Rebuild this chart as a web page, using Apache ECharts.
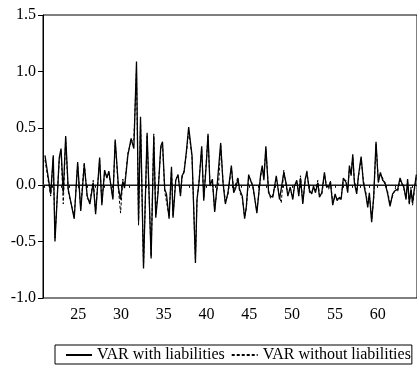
<!DOCTYPE html>
<html><head><meta charset="utf-8">
<script src="https://cdn.jsdelivr.net/npm/echarts@6/dist/echarts.min.js"></script>
<style>html,body{margin:0;padding:0;background:#fff}#c{width:417px;height:368px}</style>
</head><body><div id="c"></div>
<script>
const xs = [21.11,21.78,22.08,22.28,22.78,22.99,23.25,23.53,23.83,24.53,
24.93,25.29,25.70,26.05,26.36,26.75,27.03,27.50,27.76,28.08,
28.35,28.58,29.05,29.32,29.71,29.95,30.21,30.41,30.80,31.18,
31.50,31.81,32.05,32.28,32.63,33.05,33.52,33.83,34.06,34.33,
34.65,34.85,35.11,35.31,35.62,35.90,36.08,36.40,36.67,36.95,
37.13,37.37,37.65,37.91,38.30,38.70,38.88,39.12,39.43,39.67,
39.98,40.17,40.40,40.68,40.95,41.22,41.41,41.65,41.92,42.20,
42.50,42.90,43.17,43.40,43.67,43.86,44.18,44.45,44.65,44.92,
45.23,45.42,45.88,46.32,46.51,46.70,46.93,47.25,47.48,47.75,
48.15,48.53,48.73,49.03,49.31,49.50,49.78,50.08,50.28,50.55,
50.78,50.98,51.25,51.53,51.72,52.03,52.30,52.50,52.73,53.00,
53.20,53.47,53.78,53.98,54.28,54.48,54.75,55.03,55.26,55.53,
55.73,55.99,56.31,56.50,56.70,56.90,57.09,57.28,57.55,57.75,
58.07,58.33,58.65,58.84,59.03,59.30,59.54,59.81,60.08,60.32,
60.59,60.86,61.17,61.45,61.75,62.07,62.34,62.62,62.85,63.04,
63.32,63.50,63.70,63.90,64.08,64.28,64.52];

const withLiab = [0.26,-0.08,0.26,-0.50,0.24,0.32,-0.07,0.43,-0.04,-0.30,
0.20,-0.23,0.18,-0.10,-0.17,0.02,-0.26,0.24,-0.18,0.13,
0.06,0.12,-0.13,0.40,-0.03,-0.13,0.03,-0.03,0.26,0.41,
0.32,1.09,-0.32,0.60,-0.74,0.46,-0.65,0.43,-0.29,-0.07,
0.34,0.38,-0.04,-0.08,-0.30,0.16,-0.29,0.04,0.09,-0.10,
0.08,0.11,0.30,0.51,0.26,-0.69,-0.13,0.02,0.34,-0.14,
0.20,0.45,-0.01,0.05,-0.24,-0.02,-0.01,0.37,0.02,-0.17,
-0.07,0.17,-0.07,-0.03,0.05,-0.04,-0.10,-0.30,-0.19,0.09,
0.02,-0.01,-0.25,0.09,0.17,0.04,0.34,-0.07,-0.10,-0.11,
0.08,-0.13,-0.14,0.11,0.01,-0.10,-0.02,-0.13,-0.01,0.04,
-0.10,0.06,-0.17,0.05,0.11,-0.05,-0.08,-0.01,-0.07,0.02,
-0.11,-0.07,0.11,-0.01,-0.02,0.02,-0.18,-0.08,-0.14,-0.11,
-0.13,0.06,0.02,-0.07,0.17,0.08,0.27,0.02,-0.08,0.08,
0.25,0.02,-0.10,-0.20,-0.07,-0.33,-0.10,0.38,0.02,0.11,
0.04,0.02,-0.08,-0.19,-0.08,-0.05,-0.04,0.06,0.01,-0.01,
-0.13,0.05,-0.16,-0.04,-0.16,-0.04,0.09];

const withoutLiab = [0.22,-0.10,0.24,-0.47,0.22,0.30,-0.17,0.41,-0.06,-0.28,
0.18,-0.21,0.20,-0.12,-0.15,0.04,-0.24,0.22,-0.16,0.11,
0.08,0.10,-0.11,0.38,-0.05,-0.25,0.05,-0.01,0.28,0.38,
0.40,1.02,-0.36,0.56,-0.72,0.44,-0.63,0.45,-0.27,-0.05,
0.32,0.36,-0.06,-0.06,-0.28,0.14,-0.27,0.06,0.07,-0.08,
0.06,0.13,0.28,0.48,0.24,-0.66,-0.15,0.04,0.32,-0.12,
0.22,0.43,0.01,0.03,-0.22,-0.04,0.01,0.35,0.04,-0.15,
-0.09,0.15,-0.05,-0.05,0.07,-0.06,-0.12,-0.28,-0.21,0.07,
0.04,-0.03,-0.23,0.07,0.15,0.06,0.32,-0.05,-0.12,-0.09,
0.06,-0.11,-0.16,0.13,-0.01,-0.08,-0.04,-0.11,0.01,0.02,
-0.08,0.08,-0.15,0.03,0.13,-0.07,-0.06,-0.03,-0.05,0.04,
-0.09,-0.09,0.09,0.01,-0.04,0.04,-0.16,-0.10,-0.12,-0.13,
-0.11,0.04,0.04,-0.05,0.15,0.10,0.25,0.04,-0.06,0.06,
0.23,0.04,-0.08,-0.18,-0.09,-0.31,-0.12,0.36,0.04,0.09,
0.06,0.00,-0.06,-0.17,-0.10,-0.03,-0.06,0.04,0.03,-0.03,
-0.11,0.03,-0.18,-0.02,-0.18,-0.06,0.07];

const xLabelValues = [25,30,35,40,45,50,55,60];
const xTickValues = [21,22,23,24,25,26,27,28,29,30,31,32,33,34,35,36,37,38,39,40,41,42,43,44,45,46,47,48,49,50,51,52,53,54,55,56,57,58,59,60,61,62,63,64];
const seriesNames = ['VAR with liabilities','VAR without liabilities'];
const zeroLine = [[20.88,0],[64.6,0]];

const font = 'Liberation Serif';
const chart = echarts.init(document.getElementById('c'), null, {renderer:'canvas'});
const zip = arr => xs.map((x,i)=>[x, arr[i]]);
chart.setOption({
  animation:false,
  grid:{left:43, top:15, right:-1, bottom:70, show:true, borderColor:'#000', borderWidth:1, backgroundColor:'transparent'},
  xAxis:{type:'value', min:20.88, max:64.6,
    axisLine:{show:true, lineStyle:{color:'#000', width:1}},
    axisTick:{show:true, customValues:xTickValues, length:3, lineStyle:{color:'#000'}},
    axisLabel:{customValues:xLabelValues, color:'#000', fontFamily:font, fontSize:16, margin:9},
    splitLine:{show:false}},
  yAxis:{type:'value', min:-1, max:1.5, interval:0.5,
    axisLine:{show:true, lineStyle:{color:'#000', width:1}},
    axisTick:{show:true, length:5, lineStyle:{color:'#000'}},
    axisLabel:{color:'#000', fontFamily:font, fontSize:16, margin:7, formatter:v=>v.toFixed(1)},
    splitLine:{show:false}},
  legend:{show:true, top:345, left:55, orient:'horizontal', itemGap:6, itemWidth:26, itemHeight:14,
    itemStyle:{opacity:0, borderWidth:0},
    borderColor:'#000', borderWidth:1, borderRadius:0, padding:[2,1,1,10],
    textStyle:{color:'#000', fontFamily:font, fontSize:16},
    data:seriesNames},
  series:[
    {name:'zero', type:'line', data:zeroLine, showSymbol:false, symbol:'none', silent:true, z:1,
      lineStyle:{color:'#555', width:1, type:'solid'}},
    {name:seriesNames[0], type:'line', data:zip(withLiab), showSymbol:false, symbol:'none', z:3,
      lineStyle:{color:'#000', width:1.3, type:'solid'}, itemStyle:{color:'#000'}},
    {name:seriesNames[1], type:'line', data:zip(withoutLiab), showSymbol:false, symbol:'none', z:2,
      lineStyle:{color:'#000', width:1, type:[3,2]}, itemStyle:{color:'#000'}}
  ]
});
</script></body></html>
